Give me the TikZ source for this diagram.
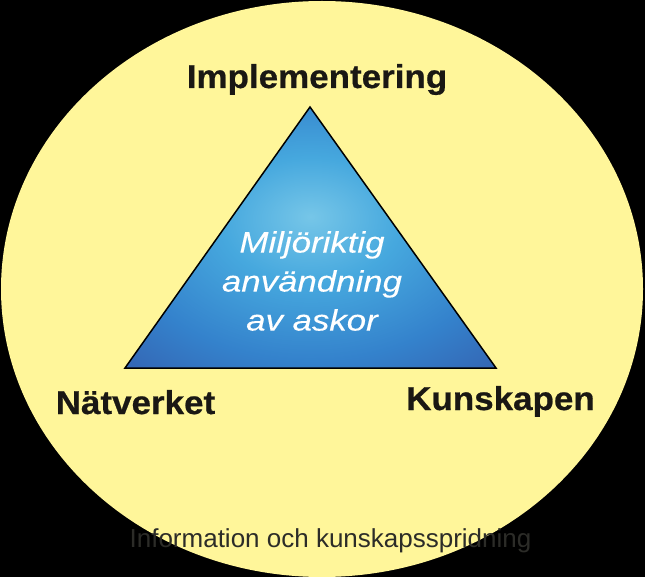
\documentclass[tikz,border=0pt]{standalone}
\usepackage{fontspec}
\setmainfont{Liberation Sans}
\newfontfamily\bredfont[FakeStretch=1.06,BoldFeatures={FakeBold=0.6}]{Liberation Sans}
\newfontfamily\kursivfont[FakeStretch=1.18,ItalicFeatures={FakeBold=0.2}]{Liberation Sans}
\definecolor{askgul}{RGB}{255,246,154}
\definecolor{nastansvart}{RGB}{26,24,20}
\definecolor{fotgra}{RGB}{44,44,40}
\definecolor{trilys}{RGB}{118,198,232}
\definecolor{triljus}{RGB}{70,168,222}
\definecolor{trimitt}{RGB}{52,130,204}
\definecolor{trimork}{RGB}{52,88,168}
\definecolor{trinatt}{RGB}{44,60,138}
\pgfdeclareradialshading{triangelglod}{\pgfpoint{0bp}{4bp}}{%
  color(0bp)=(trilys); color(12bp)=(triljus); color(26bp)=(trimitt);
  color(42bp)=(trimork); color(56bp)=(trinatt); color(70bp)=(trinatt)}
\tikzset{
  hornord/.style={
    inner sep=0pt,
    text=nastansvart,
    font=\bredfont\bfseries\fontsize{33}{38}\selectfont
  },
  mitt/.style={
    inner sep=0pt,
    align=center,
    text=white,
    font=\kursivfont\itshape\fontsize{29.5}{39}\selectfont
  },
  fot/.style={
    inner sep=0pt,
    text=fotgra,
    font=\fontsize{26}{30}\selectfont
  },
  kant/.style={
    line width=1.5pt,
    line join=miter,
    black
  }
}
\begin{document}
\begin{tikzpicture}[x=1pt,y=-1pt]
\fill[black] (0,0) rectangle (645,577);
\useasboundingbox (0,0) rectangle (645,577);
\fill[askgul] (322,289) ellipse [x radius=321, y radius=288];
% triangeln
\coordinate (topp) at (310,107);
\coordinate (vanster) at (125,368);
\coordinate (hoger) at (496,368);
\shade[shading=triangelglod] (topp) -- (hoger) -- (vanster) -- cycle;
\draw[kant] (topp) -- (hoger) -- (vanster) -- cycle;
\node[mitt] (kar) at (312,281) {Miljöriktig\\användning\\av askor};
% hörnen
\node[hornord,anchor=base] (impl) at (317,88) {Implementering};
\node[hornord,anchor=base] (natverk) at (135.5,414) {Nätverket};
\node[hornord,anchor=base] (kunskap) at (500.5,410) {Kunskapen};
\node[fot,anchor=base] (sprid) at (330.5,547) {Information och kunskapsspridning};
\end{tikzpicture}
\end{document}
